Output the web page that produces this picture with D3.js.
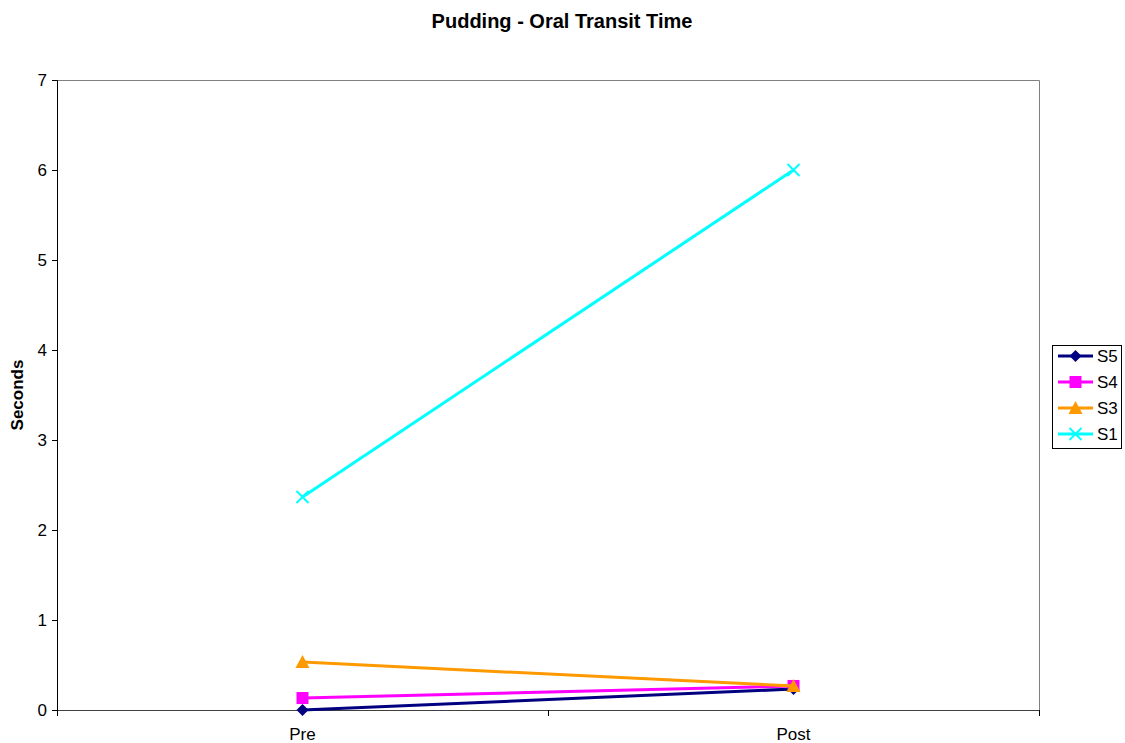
<!DOCTYPE html>
<html>
<head>
<meta charset="utf-8">
<script src="https://cdn.jsdelivr.net/npm/d3@7"></script>
<style>
  html, body { margin: 0; padding: 0; background: #fff; }
  svg { display: block; font-family: "Liberation Sans", Arial, sans-serif; }
</style>
</head>
<body>
<svg id="chart" width="1125" height="743"></svg>
<script>
// Oral transit time (seconds), pudding, before and after
const categories = ["Pre", "Post"];
const seriesNames = ["S5", "S4", "S3", "S1"];
const s5 = [0, 0.233];
const s4 = [0.133, 0.267];
const s3 = [0.533, 0.267];
const s1 = [2.367, 6.0];
const yTicks = [0, 1, 2, 3, 4, 5, 6, 7];

const seriesValues = [s5, s4, s3, s1];
const colors = ["#000080", "#ff00ff", "#ff9900", "#00ffff"];
const markers = ["diamond", "square", "triangle", "cross"];

const svg = d3.select("#chart");
const margin = { left: 57, right: 1039, top: 80, bottom: 710 };

const x = d3.scaleBand().domain(categories).range([margin.left, margin.right]);
const y = d3.scaleLinear().domain([0, 7]).range([margin.bottom, margin.top]);

// Title
svg.append("text")
  .attr("x", 562).attr("y", 28)
  .attr("text-anchor", "middle")
  .attr("font-size", 20).attr("font-weight", "bold")
  .text("Pudding - Oral Transit Time");

// Plot frame: gray top and right edges
svg.append("path")
  .attr("d", `M${margin.left},${margin.top + 0.5}H${margin.right + 0.5}V${margin.bottom}`)
  .attr("fill", "none").attr("stroke", "#808080").attr("stroke-width", 1);

// Y axis
const yAxis = svg.append("g")
  .attr("transform", `translate(${margin.left},0)`)
  .call(d3.axisLeft(y).tickValues(yTicks).tickSize(5).tickPadding(5).tickFormat(d3.format("d")));
yAxis.selectAll("path, line").attr("stroke", "#000");
yAxis.selectAll("text").attr("font-size", 17).attr("fill", "#000")
  .attr("font-family", "'Liberation Sans', Arial, sans-serif");

// X axis with tick marks at the band boundaries
const xAxis = svg.append("g")
  .attr("transform", `translate(0,${margin.bottom})`);
xAxis.append("line")
  .attr("x1", margin.left).attr("x2", margin.right)
  .attr("y1", 0.5).attr("y2", 0.5)
  .attr("stroke", "#404040");
const boundaries = [margin.left, ...categories.map(c => x(c) + x.bandwidth())];
xAxis.selectAll("line.tick").data(boundaries).join("line")
  .attr("class", "tick")
  .attr("x1", d => Math.round(d) + 0.5).attr("x2", d => Math.round(d) + 0.5)
  .attr("y1", 0).attr("y2", 6)
  .attr("stroke", "#000");
xAxis.selectAll("text").data(categories).join("text")
  .attr("x", d => x(d) + x.bandwidth() / 2)
  .attr("y", 30)
  .attr("text-anchor", "middle")
  .attr("font-size", 17)
  .text(d => d);

// Y axis title
svg.append("text")
  .attr("transform", "translate(23,395) rotate(-90)")
  .attr("text-anchor", "middle")
  .attr("font-size", 17).attr("font-weight", "bold")
  .text("Seconds");

const cx = c => x(c) + x.bandwidth() / 2;

function drawMarker(g, type, color, px, py) {
  if (type === "diamond") {
    g.append("path")
      .attr("d", `M${px},${py - 6}L${px + 6},${py}L${px},${py + 6}L${px - 6},${py}Z`)
      .attr("fill", color);
  } else if (type === "square") {
    g.append("rect")
      .attr("x", px - 6).attr("y", py - 6).attr("width", 12).attr("height", 12)
      .attr("fill", color);
  } else if (type === "triangle") {
    g.append("path")
      .attr("d", `M${px},${py - 7}L${px + 7},${py + 6}L${px - 7},${py + 6}Z`)
      .attr("fill", color);
  } else if (type === "cross") {
    g.append("path")
      .attr("d", `M${px - 6},${py - 6}L${px + 6},${py + 6}M${px + 6},${py - 6}L${px - 6},${py + 6}`)
      .attr("stroke", color).attr("stroke-width", 2).attr("fill", "none");
  }
}

const line = d3.line().x((d, i) => cx(categories[i])).y(d => y(d));

// Series lines and markers
seriesValues.forEach((vals, si) => {
  const g = svg.append("g");
  g.append("path")
    .datum(vals)
    .attr("d", line)
    .attr("fill", "none")
    .attr("stroke", colors[si])
    .attr("stroke-width", 3);
  vals.forEach((v, i) => drawMarker(g, markers[si], colors[si], cx(categories[i]), y(v)));
});

// Legend
const legend = svg.append("g");
legend.append("rect")
  .attr("x", 1052.5).attr("y", 345.5).attr("width", 69).attr("height", 103)
  .attr("fill", "#fff").attr("stroke", "#000").attr("stroke-width", 1);
seriesNames.forEach((name, i) => {
  const ly = 356 + i * 26;
  const g = legend.append("g");
  g.append("line")
    .attr("x1", 1058).attr("x2", 1093).attr("y1", ly).attr("y2", ly)
    .attr("stroke", colors[i]).attr("stroke-width", 3);
  drawMarker(g, markers[i], colors[i], 1075.5, ly);
  g.append("text")
    .attr("x", 1097).attr("y", ly + 6)
    .attr("font-size", 17)
    .text(name);
});
</script>
</body>
</html>
